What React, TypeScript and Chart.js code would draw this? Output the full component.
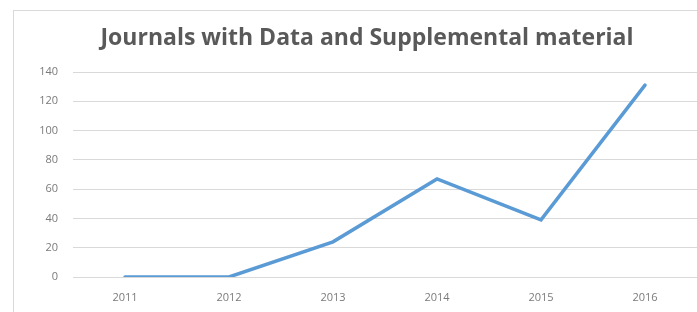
import React, { useEffect, useRef } from "react";
import { Chart, registerables } from "chart.js";

Chart.register(...registerables);

const years = ["2011", "2012", "2013", "2014", "2015", "2016"];
const journals = [0, 0, 24, 67, 39, 131];
const titleText = "Journals with Data and Supplemental material";

const titlePlugin = {
  id: "offsetTitle",
  afterDraw(chart: any) {
    const ctx = chart.ctx;
    ctx.save();
    ctx.fillStyle = "#595959";
    ctx.font = "bold 23px 'Open Sans'";
    ctx.textAlign = "center";
    ctx.textBaseline = "alphabetic";
    ctx.fillText(titleText, 367, 45);
    ctx.restore();
  },
};

export default function App() {
  const ref = useRef<HTMLCanvasElement | null>(null);

  useEffect(() => {
    if (!ref.current) return;
    const chart = new Chart(ref.current, {
      type: "line",
      data: {
        labels: years,
        datasets: [
          {
            label: "Journals",
            data: journals,
            borderColor: "#5b9bd5",
            backgroundColor: "#5b9bd5",
            borderWidth: 3.5,
            pointRadius: 0,
            tension: 0,
            borderCapStyle: "round",
          },
        ],
      },
      plugins: [titlePlugin],
      options: {
        responsive: false,
        animation: false,
        devicePixelRatio: 1,
        layout: { padding: { left: 0, right: 0, top: 72, bottom: 0 } },
        plugins: {
          legend: { display: false },
          tooltip: { enabled: false },
          title: { display: false },
        },
        scales: {
          x: {
            offset: true,
            grid: { display: false, drawTicks: false },
            border: { display: false },
            ticks: {
              color: "#7a7a7a",
              font: { family: "Open Sans", size: 11 },
              padding: 14,
              maxRotation: 0,
            },
            afterFit: (s: any) => {
              s.height = 35;
            },
          },
          y: {
            min: 0,
            max: 140,
            grid: { color: "#d9d9d9", lineWidth: 1, drawTicks: false },
            border: { display: false },
            ticks: {
              stepSize: 20,
              color: "#7a7a7a",
              font: { family: "Open Sans", size: 11 },
              padding: 15,
            },
            afterFit: (s: any) => {
              s.width = 73;
            },
          },
        },
      },
    });
    return () => chart.destroy();
  }, []);

  return (
    <div
      style={{
        position: "fixed",
        left: 0,
        top: 0,
        width: 697,
        height: 312,
        overflow: "hidden",
        background: "#fff",
      }}
    >
      <div
        style={{
          position: "absolute",
          left: 13,
          top: 10,
          width: 720,
          height: 400,
          border: "1px solid #d9d9d9",
          boxSizing: "border-box",
        }}
      />
      <canvas
        ref={ref}
        width={697}
        height={312}
        style={{ position: "absolute", left: 0, top: 0, width: 697, height: 312 }}
      />
    </div>
  );
}
